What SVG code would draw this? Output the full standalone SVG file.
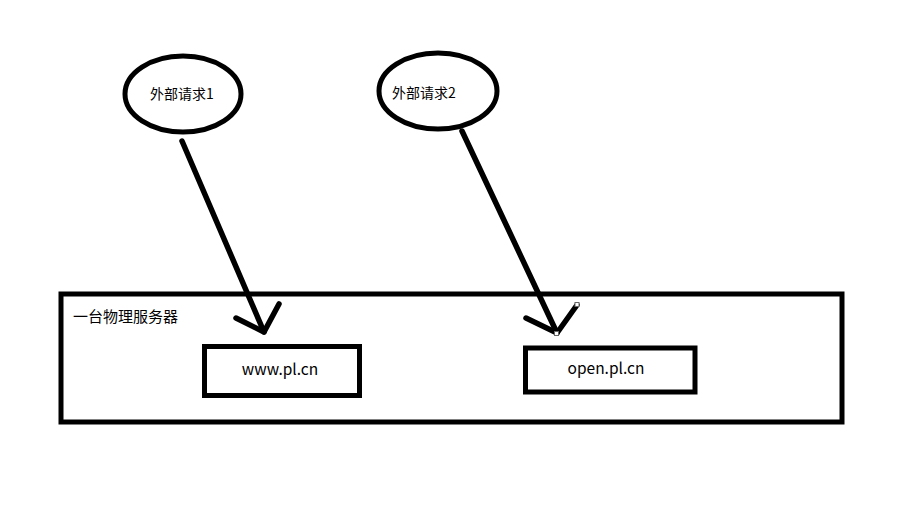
<svg xmlns="http://www.w3.org/2000/svg" width="903" height="505" viewBox="0 0 903 505">
<style>
.shape{fill:none;stroke:#000;stroke-width:5}
.conn{fill:none;stroke:#000;stroke-width:5.5;stroke-linecap:round;stroke-linejoin:round}
.t{font-family:"Microsoft YaHei","Noto Sans CJK SC",sans-serif;fill:#000}
.handle{fill:#fff;stroke:#666;stroke-width:1}
</style>
<rect width="903" height="505" fill="#fff"/>
<g id="req1">
<ellipse class="shape" cx="183" cy="94" rx="58" ry="38"/>
<text class="t" x="150" y="99" font-size="14">外部请求1</text>
</g>
<g id="req2">
<ellipse class="shape" cx="438" cy="91" rx="59" ry="38"/>
<text class="t" x="392" y="98" font-size="14">外部请求2</text>
</g>
<g id="server">
<rect class="shape" x="61" y="294" width="781" height="128"/>
<text class="t" x="73" y="322" font-size="15">一台物理服务器</text>
</g>
<g id="www">
<rect class="shape" x="204.5" y="346.5" width="155" height="49"/>
<text class="t" x="280" y="375" font-size="15.5" text-anchor="middle">www.pl.cn</text>
</g>
<g id="open">
<rect class="shape" x="525.5" y="348" width="169.5" height="44"/>
<text class="t" x="606" y="374" font-size="15.5" text-anchor="middle">open.pl.cn</text>
</g>
<g id="connectors">
<path class="conn" d="M182,141 L264,332"/>
<path class="conn" d="M236,318 L264,332 L279,304"/>
<path class="conn" d="M462,131 L557,333"/>
<path class="conn" d="M526,318 L557,333 L577,305"/>
<rect class="handle" x="554.5" y="331.5" width="4" height="4"/>
<rect class="handle" x="575" y="302.5" width="4" height="4"/>
</g>
</svg>
